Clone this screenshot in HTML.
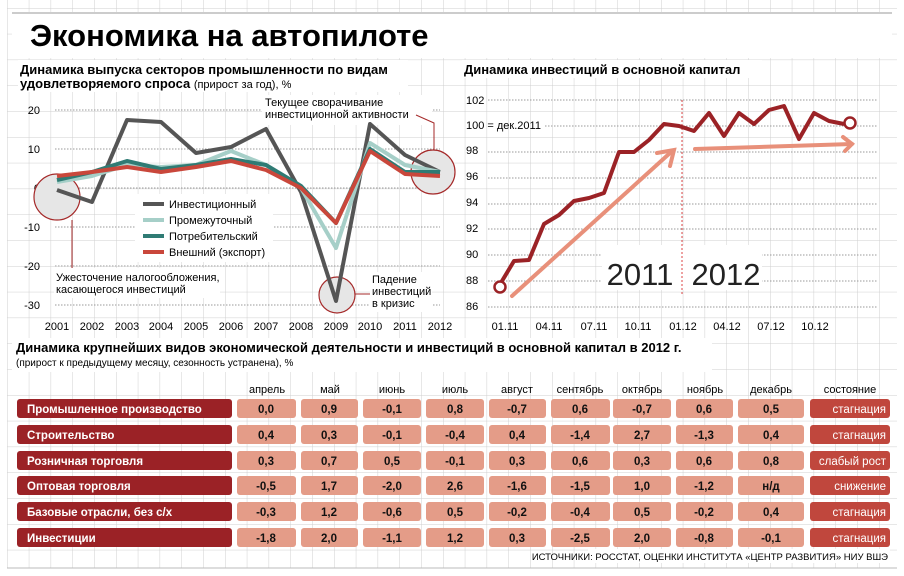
<!DOCTYPE html>
<html><head><meta charset="utf-8"><style>
body{margin:0;background:#fff}
svg{display:block}
text{font-family:"Liberation Sans Narrow","Liberation Sans",sans-serif}
.b{font-weight:bold}
.lb{fill:#9b2226}.vb{fill:#e49c88}.sb{fill:#c0473d}
.lt{fill:#fff;font-weight:bold}.vt{text-anchor:middle;font-weight:bold;fill:#111}.st{fill:#fff;text-anchor:end}
</style></head><body>
<svg width="904" height="576" viewBox="0 0 904 576" xmlns="http://www.w3.org/2000/svg">
<defs>
<pattern id="g" x="7" y="8" width="21.8" height="25.8" patternUnits="userSpaceOnUse">
<path d="M0 0V25.8M0 0H21.8" stroke="#cfcfcf" stroke-width="1" fill="none"/>
</pattern>
</defs>
<rect width="904" height="576" fill="#fff"/>
<rect x="7" y="0" width="890" height="568" fill="url(#g)"/>
<path d="M7 568H897" stroke="#bbb"/>
<rect x="12" y="13" width="880" height="45" fill="#fff"/>
<path d="M12 13H892" stroke="#ccc" stroke-width="2"/>
<text x="30" y="46" font-size="31" class="b" style="font-family:'Liberation Sans'">Экономика на автопилоте</text>
<rect x="18" y="60" width="390" height="32" fill="#fff"/>
<text x="20" y="74" font-size="13" class="b">Динамика выпуска секторов промышленности по видам</text>
<text x="20" y="88" font-size="13" class="b">удовлетворяемого спроса <tspan font-weight="normal" font-size="11">(прирост за год), %</tspan></text>
<g font-size="11" text-anchor="end">
<text x="40" y="114">20</text><text x="40" y="153">10</text><text x="40" y="192">0</text>
<text x="40" y="231">-10</text><text x="40" y="270">-20</text><text x="40" y="309">-30</text>
</g>
<g stroke="#999" stroke-dasharray="1.5,1.5" stroke-width="1">
<path d="M55 110H440M55 149H440M55 188H440M55 227H440M55 266H440M55 305H440"/>
</g>
<rect x="262" y="95" width="170" height="30" fill="#fff"/>
<text x="265" y="106" font-size="11">Текущее сворачивание</text>
<text x="265" y="118" font-size="11">инвестиционной активности</text>
<path d="M416 115L434 123V150" stroke="#a52a2a" fill="none"/>
<circle cx="57" cy="197" r="23" fill="#e6e6e6" stroke="#a52a2a" stroke-width="1.2"/>
<circle cx="337" cy="295" r="18" fill="#e6e6e6" stroke="#a52a2a" stroke-width="1.2"/>
<circle cx="433" cy="172" r="22" fill="#e6e6e6" stroke="#a52a2a" stroke-width="1.2"/>
<path d="M72 220V270" stroke="#a52a2a"/>
<path d="M355 294H372" stroke="#a52a2a"/>
<g fill="none" stroke-width="4" stroke-linejoin="round">
<polyline stroke="#555" points="57,190 92,202 127,120 161,122 196,153 231,147 266,129 301,192 336,301 370,124 405,155 440,172"/>
<polyline stroke="#a6cfc8" points="57,182 92,176 127,165 161,167 196,165 231,151 266,165 301,188 336,248 370,143 405,165 440,172"/>
<polyline stroke="#2f7b74" points="57,180 92,172 127,161 161,169 196,165 231,159 266,165 301,186 336,223 370,149 405,172 440,172"/>
<polyline stroke="#c9473b" points="57,176 92,172 127,167 161,172 196,167 231,161 266,170 301,188 336,223 370,151 405,174 440,176"/>
</g>
<rect x="135" y="194" width="138" height="68" fill="#fff"/>
<g stroke-width="4">
<path d="M143 204H164" stroke="#555"/><path d="M143 220H164" stroke="#a6cfc8"/>
<path d="M143 236H164" stroke="#2f7b74"/><path d="M143 252H164" stroke="#c9473b"/>
</g>
<g font-size="11">
<text x="169" y="208">Инвестиционный</text><text x="169" y="224">Промежуточный</text>
<text x="169" y="240">Потребительский</text><text x="169" y="256">Внешний (экспорт)</text>
</g>
<rect x="54" y="268" width="166" height="30" fill="#fff"/>
<text x="56" y="281" font-size="11">Ужесточение налогообложения,</text>
<text x="56" y="293" font-size="11">касающегося инвестиций</text>
<rect x="370" y="272" width="62" height="40" fill="#fff"/>
<text x="372" y="283" font-size="11">Падение</text><text x="372" y="295" font-size="11">инвестиций</text><text x="372" y="307" font-size="11">в кризис</text>
<g font-size="11" text-anchor="middle">
<text x="57" y="330">2001</text><text x="92" y="330">2002</text><text x="127" y="330">2003</text><text x="161" y="330">2004</text><text x="196" y="330">2005</text><text x="231" y="330">2006</text><text x="266" y="330">2007</text><text x="301" y="330">2008</text><text x="336" y="330">2009</text><text x="370" y="330">2010</text><text x="405" y="330">2011</text><text x="440" y="330">2012</text>
</g>
<rect x="462" y="60" width="300" height="18" fill="#fff"/>
<text x="464" y="74" font-size="13" class="b">Динамика инвестиций в основной капитал</text>
<g font-size="11">
<text x="466" y="104">102</text><text x="466" y="129">100 = дек.2011</text><text x="466" y="154">98</text><text x="466" y="180">96</text><text x="466" y="206">94</text><text x="466" y="232">92</text><text x="466" y="258">90</text><text x="466" y="284">88</text><text x="466" y="310">86</text>
</g>
<g stroke="#999" stroke-dasharray="1.5,1.5">
<path d="M488 100H878M545 126H878M488 152H878M488 178H878M488 204H878M488 229H878M488 255H878M488 281H878M488 307H878"/>
</g>
<rect x="602" y="245" width="160" height="45" fill="#fff"/>
<path d="M682 100V295" stroke="#d44" stroke-dasharray="2,2"/>
<text x="640" y="285" font-size="31" text-anchor="middle" fill="#222" style="font-family:'Liberation Sans'">2011</text>
<text x="726" y="285" font-size="31" text-anchor="middle" fill="#222" style="font-family:'Liberation Sans'">2012</text>
<g stroke="#e8907a" stroke-width="4" fill="none" stroke-linecap="round">
<path d="M512 296L670 153"/><path d="M657 153L674 150L670 166"/>
<path d="M695 149L852 144"/><path d="M843 137L852 144L845 151"/>
</g>
<polyline fill="none" stroke="#9b2226" stroke-width="4" stroke-linejoin="round" points="499,286 514,261 529,260 544,224 559,215 574,201 589,198 604,193 619,152 634,152 649,140 664,124 679,126 694,131 709,113 724,136 739,113 754,124 769,110 784,106 799,139 814,113 829,121 844,124"/>
<circle cx="500" cy="287" r="5.5" fill="#fff" stroke="#9b2226" stroke-width="2.5"/>
<circle cx="850" cy="123" r="5.5" fill="#fff" stroke="#9b2226" stroke-width="2.5"/>
<g font-size="11" text-anchor="middle">
<text x="505" y="330">01.11</text><text x="549" y="330">04.11</text><text x="594" y="330">07.11</text><text x="638" y="330">10.11</text><text x="683" y="330">01.12</text><text x="727" y="330">04.12</text><text x="771" y="330">07.12</text><text x="815" y="330">10.12</text>
</g>
<rect x="12" y="338" width="700" height="34" fill="#fff"/>
<text x="16" y="352" font-size="13" class="b">Динамика крупнейших видов экономической деятельности и инвестиций в основной капитал в 2012 г.</text>
<text x="16" y="366" font-size="10">(прирост к предыдущему месяцу, сезонность устранена), %</text>
<g font-size="11" text-anchor="middle">
<text x="267" y="393">апрель</text><text x="330" y="393">май</text><text x="392" y="393">июнь</text><text x="455" y="393">июль</text><text x="517" y="393">август</text><text x="580" y="393">сентябрь</text><text x="642" y="393">октябрь</text><text x="705" y="393">ноябрь</text><text x="771" y="393">декабрь</text><text x="850" y="393">состояние</text>
</g>
<g font-size="11.5">
<!-- label boxes -->
<rect class="lb" x="17" y="399" width="215" height="19" rx="3"/>
<rect class="lb" x="17" y="425" width="215" height="19" rx="3"/>
<rect class="lb" x="17" y="451" width="215" height="19" rx="3"/>
<rect class="lb" x="17" y="476" width="215" height="19" rx="3"/>
<rect class="lb" x="17" y="502" width="215" height="19" rx="3"/>
<rect class="lb" x="17" y="528" width="215" height="19" rx="3"/>
<text class="lt" x="27" y="413">Промышленное производство</text>
<text class="lt" x="27" y="439">Строительство</text>
<text class="lt" x="27" y="465">Розничная торговля</text>
<text class="lt" x="27" y="490">Оптовая торговля</text>
<text class="lt" x="27" y="516">Базовые отрасли, без с/х</text>
<text class="lt" x="27" y="542">Инвестиции</text>
<!-- value boxes: columns -->
<g>
<rect class="vb" x="237" y="399" width="59" height="19" rx="3"/><rect class="vb" x="237" y="425" width="59" height="19" rx="3"/><rect class="vb" x="237" y="451" width="59" height="19" rx="3"/><rect class="vb" x="237" y="476" width="59" height="19" rx="3"/><rect class="vb" x="237" y="502" width="59" height="19" rx="3"/><rect class="vb" x="237" y="528" width="59" height="19" rx="3"/>
<rect class="vb" x="301" y="399" width="57" height="19" rx="3"/><rect class="vb" x="301" y="425" width="57" height="19" rx="3"/><rect class="vb" x="301" y="451" width="57" height="19" rx="3"/><rect class="vb" x="301" y="476" width="57" height="19" rx="3"/><rect class="vb" x="301" y="502" width="57" height="19" rx="3"/><rect class="vb" x="301" y="528" width="57" height="19" rx="3"/>
<rect class="vb" x="363" y="399" width="58" height="19" rx="3"/><rect class="vb" x="363" y="425" width="58" height="19" rx="3"/><rect class="vb" x="363" y="451" width="58" height="19" rx="3"/><rect class="vb" x="363" y="476" width="58" height="19" rx="3"/><rect class="vb" x="363" y="502" width="58" height="19" rx="3"/><rect class="vb" x="363" y="528" width="58" height="19" rx="3"/>
<rect class="vb" x="426" y="399" width="58" height="19" rx="3"/><rect class="vb" x="426" y="425" width="58" height="19" rx="3"/><rect class="vb" x="426" y="451" width="58" height="19" rx="3"/><rect class="vb" x="426" y="476" width="58" height="19" rx="3"/><rect class="vb" x="426" y="502" width="58" height="19" rx="3"/><rect class="vb" x="426" y="528" width="58" height="19" rx="3"/>
<rect class="vb" x="489" y="399" width="57" height="19" rx="3"/><rect class="vb" x="489" y="425" width="57" height="19" rx="3"/><rect class="vb" x="489" y="451" width="57" height="19" rx="3"/><rect class="vb" x="489" y="476" width="57" height="19" rx="3"/><rect class="vb" x="489" y="502" width="57" height="19" rx="3"/><rect class="vb" x="489" y="528" width="57" height="19" rx="3"/>
<rect class="vb" x="551" y="399" width="59" height="19" rx="3"/><rect class="vb" x="551" y="425" width="59" height="19" rx="3"/><rect class="vb" x="551" y="451" width="59" height="19" rx="3"/><rect class="vb" x="551" y="476" width="59" height="19" rx="3"/><rect class="vb" x="551" y="502" width="59" height="19" rx="3"/><rect class="vb" x="551" y="528" width="59" height="19" rx="3"/>
<rect class="vb" x="613" y="399" width="58" height="19" rx="3"/><rect class="vb" x="613" y="425" width="58" height="19" rx="3"/><rect class="vb" x="613" y="451" width="58" height="19" rx="3"/><rect class="vb" x="613" y="476" width="58" height="19" rx="3"/><rect class="vb" x="613" y="502" width="58" height="19" rx="3"/><rect class="vb" x="613" y="528" width="58" height="19" rx="3"/>
<rect class="vb" x="676" y="399" width="57" height="19" rx="3"/><rect class="vb" x="676" y="425" width="57" height="19" rx="3"/><rect class="vb" x="676" y="451" width="57" height="19" rx="3"/><rect class="vb" x="676" y="476" width="57" height="19" rx="3"/><rect class="vb" x="676" y="502" width="57" height="19" rx="3"/><rect class="vb" x="676" y="528" width="57" height="19" rx="3"/>
<rect class="vb" x="738" y="399" width="66" height="19" rx="3"/><rect class="vb" x="738" y="425" width="66" height="19" rx="3"/><rect class="vb" x="738" y="451" width="66" height="19" rx="3"/><rect class="vb" x="738" y="476" width="66" height="19" rx="3"/><rect class="vb" x="738" y="502" width="66" height="19" rx="3"/><rect class="vb" x="738" y="528" width="66" height="19" rx="3"/>
<rect class="sb" x="810" y="399" width="80" height="19" rx="3"/><rect class="sb" x="810" y="425" width="80" height="19" rx="3"/><rect class="sb" x="810" y="451" width="80" height="19" rx="3"/><rect class="sb" x="810" y="476" width="80" height="19" rx="3"/><rect class="sb" x="810" y="502" width="80" height="19" rx="3"/><rect class="sb" x="810" y="528" width="80" height="19" rx="3"/>
</g>
<g class="vt">
<text class="vt" x="266" y="413">0,0</text><text class="vt" x="329" y="413">0,9</text><text class="vt" x="392" y="413">-0,1</text><text class="vt" x="455" y="413">0,8</text><text class="vt" x="517" y="413">-0,7</text><text class="vt" x="580" y="413">0,6</text><text class="vt" x="642" y="413">-0,7</text><text class="vt" x="704" y="413">0,6</text><text class="vt" x="771" y="413">0,5</text>
<text class="vt" x="266" y="439">0,4</text><text class="vt" x="329" y="439">0,3</text><text class="vt" x="392" y="439">-0,1</text><text class="vt" x="455" y="439">-0,4</text><text class="vt" x="517" y="439">0,4</text><text class="vt" x="580" y="439">-1,4</text><text class="vt" x="642" y="439">2,7</text><text class="vt" x="704" y="439">-1,3</text><text class="vt" x="771" y="439">0,4</text>
<text class="vt" x="266" y="465">0,3</text><text class="vt" x="329" y="465">0,7</text><text class="vt" x="392" y="465">0,5</text><text class="vt" x="455" y="465">-0,1</text><text class="vt" x="517" y="465">0,3</text><text class="vt" x="580" y="465">0,6</text><text class="vt" x="642" y="465">0,3</text><text class="vt" x="704" y="465">0,6</text><text class="vt" x="771" y="465">0,8</text>
<text class="vt" x="266" y="490">-0,5</text><text class="vt" x="329" y="490">1,7</text><text class="vt" x="392" y="490">-2,0</text><text class="vt" x="455" y="490">2,6</text><text class="vt" x="517" y="490">-1,6</text><text class="vt" x="580" y="490">-1,5</text><text class="vt" x="642" y="490">1,0</text><text class="vt" x="704" y="490">-1,2</text><text class="vt" x="771" y="490">н/д</text>
<text class="vt" x="266" y="516">-0,3</text><text class="vt" x="329" y="516">1,2</text><text class="vt" x="392" y="516">-0,6</text><text class="vt" x="455" y="516">0,5</text><text class="vt" x="517" y="516">-0,2</text><text class="vt" x="580" y="516">-0,4</text><text class="vt" x="642" y="516">0,5</text><text class="vt" x="704" y="516">-0,2</text><text class="vt" x="771" y="516">0,4</text>
<text class="vt" x="266" y="542">-1,8</text><text class="vt" x="329" y="542">2,0</text><text class="vt" x="392" y="542">-1,1</text><text class="vt" x="455" y="542">1,2</text><text class="vt" x="517" y="542">0,3</text><text class="vt" x="580" y="542">-2,5</text><text class="vt" x="642" y="542">2,0</text><text class="vt" x="704" y="542">-0,8</text><text class="vt" x="771" y="542">-0,1</text>
</g>
<text class="st" x="886" y="413">стагнация</text><text class="st" x="886" y="439">стагнация</text><text class="st" x="886" y="465">слабый рост</text><text class="st" x="886" y="490">снижение</text><text class="st" x="886" y="516">стагнация</text><text class="st" x="886" y="542">стагнация</text>
</g>
<rect x="588" y="549" width="302" height="14" fill="#fff"/>
<text x="888" y="560" font-size="9.5" text-anchor="end">ИСТОЧНИКИ: РОССТАТ, ОЦЕНКИ ИНСТИТУТА «ЦЕНТР РАЗВИТИЯ» НИУ ВШЭ</text>
</svg>
</body></html>
